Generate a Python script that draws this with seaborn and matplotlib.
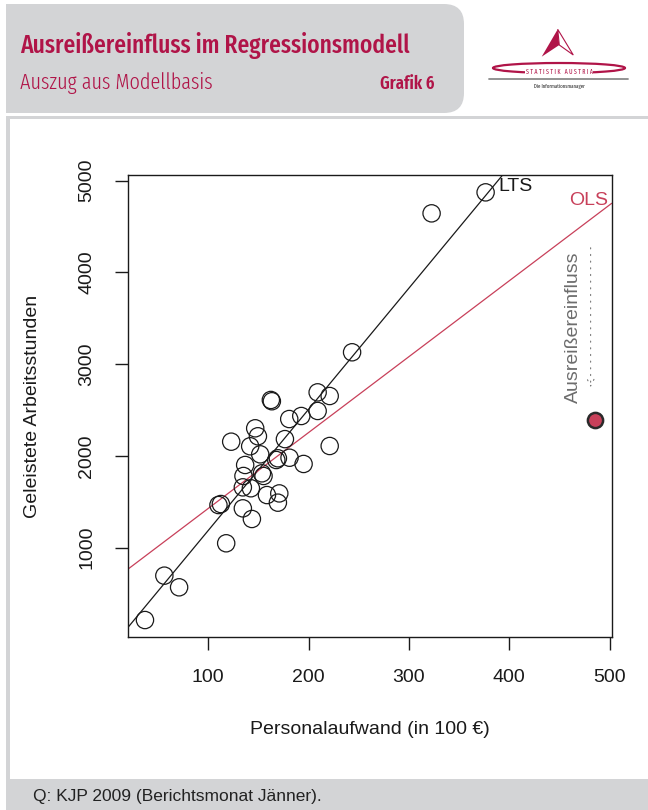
import matplotlib
matplotlib.use("Agg")
import matplotlib.pyplot as plt
import matplotlib.patches as mpatches
import seaborn as sns
import pandas as pd

# --- DATA ---
personalaufwand = [243.4, 162.5, 163.5, 209.1, 221.1, 209.1, 192.8, 180.8, 146.9, 149.6,
                   123.0, 176.5, 221.1, 141.9, 151.9, 169.5, 181.1, 167.9, 195.1, 136.9,
                   135.2, 155.2, 153.6, 134.6, 142.6, 158.6, 170.9, 169.5, 110.3, 112.7,
                   134.6, 143.6, 118.0, 56.4, 71.1, 37.1, 322.6, 376.4]
arbeitsstunden = [3129, 2609, 2595, 2692, 2652, 2489, 2434, 2401, 2300, 2213,
                  2154, 2182, 2107, 2104, 2016, 1973, 1979, 1954, 1911, 1900,
                  1780, 1780, 1809, 1656, 1646, 1572, 1590, 1489, 1463, 1474,
                  1427, 1311, 1046, 693, 566, 209, 4644, 4873]
ausreisser_x = [485.2]
ausreisser_y = [2392]

# regression lines: (intercept, slope)
lts_fit = (-138, 13.22)
ols_fit = (597, 8.28)

x_ticks = [100, 200, 300, 400, 500]
y_ticks = [1000, 2000, 3000, 4000, 5000]

CRIMSON = "#b01448"
OLS_RED = "#c8405a"
GREY_BG = "#d3d4d6"

sns.set_theme(style="white")
plt.rcParams['font.family'] = ['Liberation Sans', 'DejaVu Sans']
COND = ['Fira Sans Extra Condensed', 'Roboto Condensed', 'Liberation Sans']

W, H = 648, 810
fig = plt.figure(figsize=(W / 100, H / 100), dpi=100)
fig.patch.set_facecolor("white")


def fit_width(t, target_px):
    # shrink/grow the font so the text spans the same width as in the reference
    r = fig.canvas.get_renderer()
    w = t.get_window_extent(renderer=r).width
    t.set_fontsize(t.get_fontsize() * target_px / w)


# --- background frame in pixel coordinates ---
bg = fig.add_axes([0, 0, 1, 1], zorder=0)
bg.set_xlim(0, W)
bg.set_ylim(H, 0)
bg.axis("off")

bg.add_patch(mpatches.Rectangle((6, 4), 420, 109, color=GREY_BG, lw=0))
bg.add_patch(mpatches.FancyBboxPatch((400, 4), 64, 109, boxstyle="round,pad=0,rounding_size=20",
                                     color=GREY_BG, lw=0))
bg.add_patch(mpatches.Rectangle((6, 115.5), W - 6, 3.5, color=GREY_BG, lw=0))
bg.add_patch(mpatches.Rectangle((6, 119), 3.5, 660, color=GREY_BG, lw=0))
bg.add_patch(mpatches.Rectangle((6, 779), W - 6, 31, color=GREY_BG, lw=0))

t1 = bg.text(20, 53, "Ausreißereinfluss im Regressionsmodell", family=COND, fontsize=20,
             fontweight=500, color=CRIMSON, va="baseline", ha="left")
t2 = bg.text(20, 89, "Auszug aus Modellbasis", family=COND, fontsize=16, fontweight=300,
             color=CRIMSON, va="baseline", ha="left")
t3 = bg.text(380, 89, "Grafik 6", family=COND, fontsize=14, fontweight=600,
             color=CRIMSON, va="baseline", ha="left")
fit_width(t1, 390)
fit_width(t2, 193)
fit_width(t3, 54)

bg.text(33, 797, "Q: KJP 2009 (Berichtsmonat Jänner).", fontsize=12.5,
        color="#222222", va="center", ha="left")

# logo
bg.add_patch(mpatches.Polygon([(557.7, 29.3), (541.7, 56.7), (559.3, 45)], closed=True,
                              color=CRIMSON, lw=0))
bg.add_patch(mpatches.Polygon([(557.7, 29.3), (573.3, 55), (559.3, 45)], closed=True,
                              fc="white", ec=CRIMSON, lw=0.8))
bg.add_patch(mpatches.Ellipse((559, 68), 132, 10, fc="none", ec=CRIMSON, lw=1.6))
bg.text(559, 71.5, "S T A T I S T I K   A U S T R I A", fontsize=4.6, color=CRIMSON,
        ha="center", va="center", family=COND,
        bbox=dict(fc="white", ec="none", pad=0.6))
bg.plot([489, 628], [79.3, 79.3], color="#8a8a8a", lw=1.3)
bg.text(559, 86, "Die Informationsmanager", fontsize=3.8, color="#222222",
        ha="center", va="center", family=COND)

# --- main chart ---
left, right, top, bottom = 127.7, 611.7, 175.3, 637.0
ax = fig.add_axes([left / W, 1 - bottom / H, (right - left) / W, (bottom - top) / H], zorder=1)

df = pd.DataFrame({"Personalaufwand": personalaufwand, "Arbeitsstunden": arbeitsstunden})
df_out = pd.DataFrame({"Personalaufwand": ausreisser_x, "Arbeitsstunden": ausreisser_y})

ax.axline((0, lts_fit[0]), slope=lts_fit[1], color="#1a1a1a", lw=0.9, zorder=2)
ax.axline((0, ols_fit[0]), slope=ols_fit[1], color=OLS_RED, lw=0.9, zorder=2)

sns.scatterplot(data=df, x="Personalaufwand", y="Arbeitsstunden", ax=ax, s=155,
                facecolors="none", edgecolor="#1a1a1a", linewidth=0.9, zorder=3)
sns.scatterplot(data=df_out, x="Personalaufwand", y="Arbeitsstunden", ax=ax, s=120,
                color=OLS_RED, edgecolor="#2a2a2a", linewidth=1.8, zorder=4)

ax.set_xlim(19.9, 502)
ax.set_ylim(24, 5059)
ax.set_xticks(x_ticks)
ax.set_yticks(y_ticks)

ax.text(389, 4935, "LTS", fontsize=14, color="#1a1a1a", ha="left", va="center")
ax.text(479, 4782, "OLS", fontsize=14, color=OLS_RED, ha="center", va="center")
ax.text(464, 3405, "Ausreißereinfluss", fontsize=14, color="#6d6d6d", rotation=90,
        ha="center", va="center")
ax.annotate("", xy=(481, 2717), xytext=(481, 4299),
            arrowprops=dict(arrowstyle="->", linestyle=(0, (1, 5)), color="#777777", lw=0.8))

for sp in ax.spines.values():
    sp.set_color("#1a1a1a")
    sp.set_linewidth(1.0)
    sp.set_visible(True)

ax.tick_params(axis="both", direction="out", length=9.7, width=1.0, color="#1a1a1a",
               labelsize=14, labelcolor="#1a1a1a", pad=13.5, left=True, bottom=True)
ax.tick_params(axis="y", labelrotation=90)
plt.setp(ax.get_yticklabels(), va="center")

ax.set_xlabel("Personalaufwand (in 100 €)", fontsize=14, color="#1a1a1a")
ax.set_ylabel("Geleistete Arbeitsstunden", fontsize=14, color="#1a1a1a")
ax.xaxis.set_label_coords(0.5, (bottom - 721) / (bottom - top))
ax.yaxis.set_label_coords((41 - left) / (right - left), 0.5)

fig.savefig("out.png", dpi=100)
